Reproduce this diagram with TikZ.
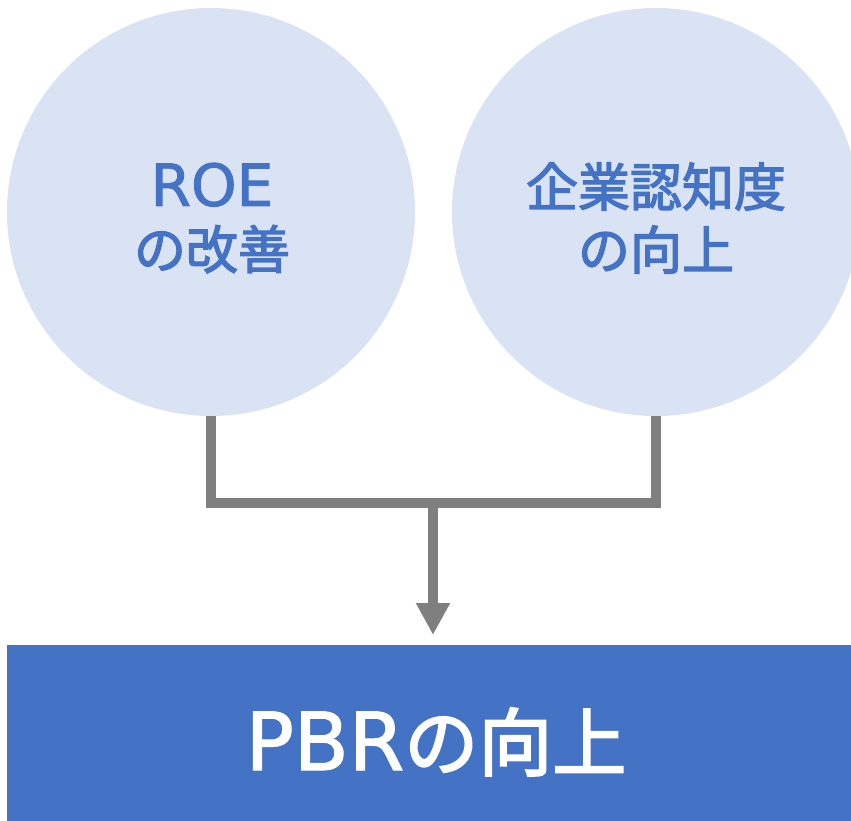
\documentclass[tikz,border=0pt]{standalone}
\usepackage{fontspec}
\setmainfont{Noto Sans CJK JP}
\newfontfamily\cjkfont{Noto Sans CJK JP}[FakeBold=2.5]
\newfontfamily\latinfont{DejaVu Sans}[FakeBold=1.5]
\usetikzlibrary{arrows.meta}
\definecolor{circfill}{HTML}{DAE3F3}
\definecolor{accent}{HTML}{4472C4}
\definecolor{conn}{HTML}{7F7F7F}
\begin{document}
\begin{tikzpicture}[x=1pt,y=-1pt,
  bubble/.style={circle,fill=circfill,minimum size=408pt,inner sep=0pt},
  bubbletext/.style={text=accent,font=\cjkfont\fontsize{52}{63}\selectfont,align=center,inner sep=0pt},
  connector/.style={draw=conn,line width=10pt},
  banner/.style={fill=accent,minimum width=844pt,minimum height=176pt,inner sep=0pt},
  bannertext/.style={text=white,font=\cjkfont\fontsize{74}{90}\selectfont,inner sep=0pt}]
\useasboundingbox (0,0) rectangle (851,821);
\clip (0,0) rectangle (851,821);
\node[bubble] (roe) at (211,212) {};
\node[bubble] (nin) at (656,212) {};
\node[bubbletext] (roet) at (212,218) {{\latinfont\fontsize{58}{63}\selectfont ROE}\\の改善};
\node[bubbletext] (nint) at (656,218) {企業認知度\\の向上};
\node[banner,anchor=north west] (pbr) at (7,645) {};
\node[bannertext,anchor=base] (pbrt) at (436,770) {{\latinfont\fontsize{80}{90}\selectfont PBR}の向上};
\coordinate (j) at (433,503);
\draw[connector] (roe.south) |- (j) -| (nin.south);
\draw[connector,-{Triangle[length=32pt,width=32pt]}] (j) -- (433,635);
\end{tikzpicture}
\end{document}
